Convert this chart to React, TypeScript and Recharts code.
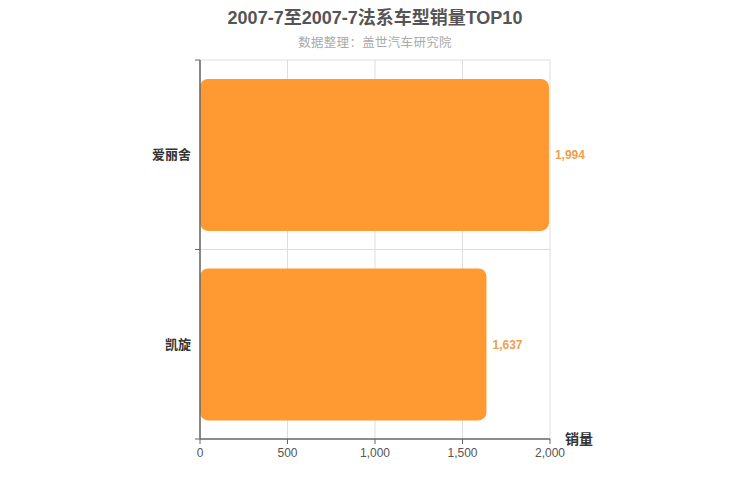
import React from 'react';
import { BarChart, Bar, XAxis, YAxis, CartesianGrid, LabelList, Label } from 'recharts';

const categories = ['爱丽舍', '凯旋'];
const sales = [1994, 1637];
const xTicks = [0, 500, 1000, 1500, 2000];

const data = categories.map((name, i) => ({ name, value: sales[i] }));

const font = '"Liberation Sans", Arial, "Noto Sans CJK SC", sans-serif';
const fmt = (v: number) => v.toLocaleString('en-US');

const AxisName = (props: any) => {
  const { viewBox } = props;
  return (
    <text
      x={viewBox.x + viewBox.width + 15}
      y={viewBox.y}
      dy="0.35em"
      fontSize={14}
      fontWeight="bold"
      fill="#333"
      fontFamily={font}
    >
      销量
    </text>
  );
};

// category label at the band centre, tick marks at the band edges
const CategoryTick = (props: any) => {
  const { x, y, payload, index } = props;
  const half = payload && payload.offset ? payload.offset : 0;
  const last = index === categories.length - 1;
  return (
    <g>
      <line x1={x - 5} x2={x} y1={y - half} y2={y - half} stroke="#666" />
      {last && <line x1={x - 5} x2={x} y1={y + half} y2={y + half} stroke="#666" />}
      <text
        x={x - 9}
        y={y}
        dy="0.35em"
        textAnchor="end"
        fontSize={13}
        fontWeight="bold"
        fill="#333"
        fontFamily={font}
      >
        {payload.value}
      </text>
    </g>
  );
};

const bandLines = (args: any) => {
  const { offset } = args;
  const step = offset.height / categories.length;
  return categories.map((_, i) => offset.top + i * step);
};

const App: React.FC = () => {
  return (
    <div style={{ position: 'absolute', left: 0, top: 0, width: 750, height: 500, background: '#fff', fontFamily: font }}>
      <div style={{ position: 'absolute', top: 3, width: 750, textAlign: 'center', fontSize: 18, fontWeight: 'bold', color: '#555' }}>
        2007-7至2007-7法系车型销量TOP10
      </div>
      <div style={{ position: 'absolute', top: 32, width: 750, textAlign: 'center', fontSize: 12.5, color: '#aaa', letterSpacing: 0.3 }}>
        数据整理：盖世汽车研究院
      </div>
      <BarChart
        width={750}
        height={500}
        data={data}
        layout="vertical"
        margin={{ top: 60, right: 200, bottom: 31, left: 140 }}
        barCategoryGap="10%"
      >
        <CartesianGrid stroke="#ddd" horizontalCoordinatesGenerator={bandLines} />
        <YAxis
          type="category"
          dataKey="name"
          width={60}
          axisLine={{ stroke: '#666', strokeWidth: 1.5 }}
          tickLine={false}
          tickSize={0}
          tickMargin={0}
          tick={CategoryTick}
        />
        <XAxis
          type="number"
          domain={[0, 2000]}
          ticks={xTicks}
          height={30}
          tickFormatter={fmt}
          axisLine={{ stroke: '#666', strokeWidth: 1.5 }}
          tickLine={{ stroke: '#666' }}
          tickSize={5}
          tickMargin={4}
          tick={{ fontSize: 12, fill: '#555', fontFamily: font }}
        >
          <Label content={AxisName} />
        </XAxis>
        <Bar dataKey="value" fill="#ff9a33" radius={8} isAnimationActive={false}>
          <LabelList
            dataKey="value"
            position="right"
            offset={6}
            formatter={(v: any) => fmt(Number(v))}
            style={{ fontSize: 12, fill: '#f0a04b', fontWeight: 'bold', fontFamily: font }}
          />
        </Bar>
      </BarChart>
    </div>
  );
};

export default App;
